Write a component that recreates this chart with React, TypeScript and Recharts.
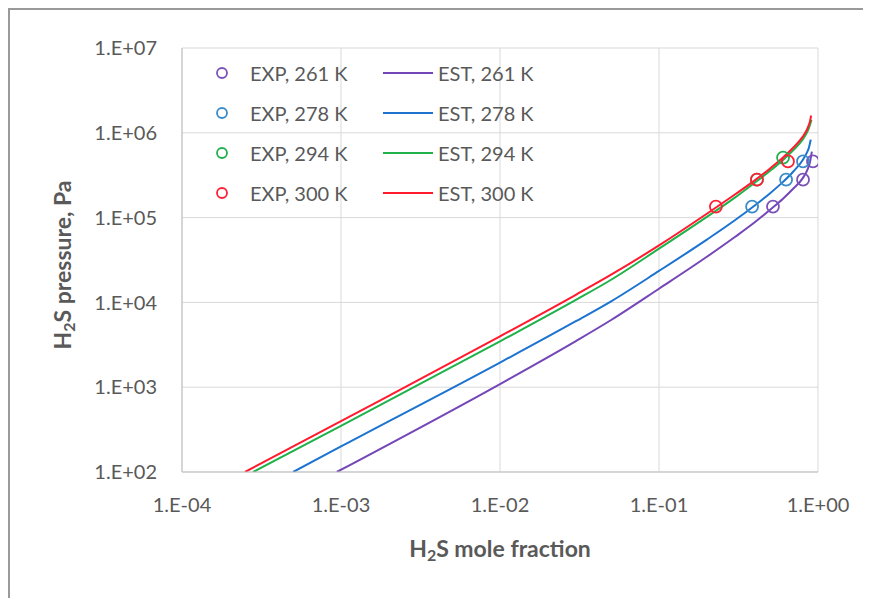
import React from "react";
import {
  ComposedChart,
  Line,
  Scatter,
  XAxis,
  YAxis,
  CartesianGrid,
  Legend,
  Label,
} from "recharts";

// axis ticks (log decades)
const X_TICKS = [1e-4, 1e-3, 1e-2, 1e-1, 1];
const X_TICK_LABELS = ["1.E-04", "1.E-03", "1.E-02", "1.E-01", "1.E+00"];
const Y_TICKS = [1e2, 1e3, 1e4, 1e5, 1e6, 1e7];
const Y_TICK_LABELS = ["1.E+02", "1.E+03", "1.E+04", "1.E+05", "1.E+06", "1.E+07"];

// experimental points
const EXP_261_X = [0.521, 0.805, 0.93];
const EXP_261_P = [1.35e5, 2.8e5, 4.6e5];
const EXP_278_X = [0.385, 0.63, 0.805];
const EXP_278_P = [1.35e5, 2.8e5, 4.6e5];
const EXP_294_X = [0.413, 0.603];
const EXP_294_P = [2.8e5, 5.1e5];
const EXP_300_X = [0.228, 0.413, 0.647];
const EXP_300_P = [1.35e5, 2.8e5, 4.6e5];

// estimated curves
const EST_261_X = [9.4e-4, 1e-2, 0.03, 0.05, 0.1, 0.2, 0.3, 0.4, 0.5, 0.6, 0.7, 0.8, 0.86, 0.89, 0.915];
const EST_261_P = [100, 1090, 3.5e3, 6.2e3, 1.45e4, 3.45e4, 5.9e4, 8.8e4, 1.24e5, 1.66e5, 2.2e5, 2.9e5, 3.7e5, 4.5e5, 6.0e5];
const EST_278_X = [5e-4, 1e-3, 1e-2, 0.03, 0.05, 0.1, 0.2, 0.3, 0.4, 0.5, 0.6, 0.7, 0.8, 0.85, 0.875, 0.9];
const EST_278_P = [100, 200, 1950, 6.0e3, 1.03e4, 2.35e4, 5.5e4, 9.3e4, 1.39e5, 1.94e5, 2.62e5, 3.5e5, 4.75e5, 5.8e5, 6.6e5, 8.3e5];
const EST_294_X = [2.8e-4, 1e-3, 1e-2, 0.03, 0.05, 0.1, 0.2, 0.3, 0.4, 0.5, 0.6, 0.7, 0.8, 0.85, 0.875, 0.91];
const EST_294_P = [100, 350, 3470, 1.07e4, 1.85e4, 4.3e4, 1.02e5, 1.72e5, 2.58e5, 3.56e5, 4.75e5, 6.25e5, 8.3e5, 1.0e6, 1.13e6, 1.42e6];
const EST_300_X = [2.49e-4, 1e-3, 1e-2, 0.03, 0.05, 0.1, 0.2, 0.3, 0.4, 0.5, 0.6, 0.7, 0.8, 0.85, 0.875, 0.89, 0.905];
const EST_300_P = [100, 398, 3980, 1.23e4, 2.12e4, 4.7e4, 1.11e5, 1.87e5, 2.75e5, 3.8e5, 5.07e5, 6.7e5, 8.95e5, 1.08e6, 1.23e6, 1.36e6, 1.6e6];

const zip = (xs: number[], ps: number[]) => xs.map((x, i) => ({ x, p: ps[i] }));

const SERIES = [
  { t: "261", exp: zip(EXP_261_X, EXP_261_P), est: zip(EST_261_X, EST_261_P), expColor: "#7a52b8", estColor: "#7446b8" },
  { t: "278", exp: zip(EXP_278_X, EXP_278_P), est: zip(EST_278_X, EST_278_P), expColor: "#3a8cc8", estColor: "#1c74d0" },
  { t: "294", exp: zip(EXP_294_X, EXP_294_P), est: zip(EST_294_X, EST_294_P), expColor: "#22b04e", estColor: "#1fb24a" },
  { t: "300", exp: zip(EXP_300_X, EXP_300_P), est: zip(EST_300_X, EST_300_P), expColor: "#ff2035", estColor: "#ff1a2e" },
];

const FONT = "Lato, 'Open Sans', sans-serif";
const TEXT = "#595959";

const hollow = (color: string) => (props: any) =>
  <circle cx={props.cx} cy={props.cy} r={6} fill="none" stroke={color} strokeWidth={1.8} />;

function LegendBox() {
  return (
    <div style={{ fontFamily: FONT, fontSize: 20, color: TEXT }}>
      {SERIES.map((s) => (
        <div key={s.t} style={{ display: "flex", alignItems: "center", height: 40 }}>
          <svg width={24} height={24}>
            <circle cx={12} cy={12} r={5} fill="none" stroke={s.expColor} strokeWidth={1.8} />
          </svg>
          <span style={{ marginLeft: 16, width: 133 }}>{`EXP, ${s.t} K`}</span>
          <svg width={50} height={24}>
            <line x1={0} y1={12} x2={50} y2={12} stroke={s.estColor} strokeWidth={2} />
          </svg>
          <span style={{ marginLeft: 5 }}>{`EST, ${s.t} K`}</span>
        </div>
      ))}
    </div>
  );
}

export default function App() {
  return (
    <div style={{ borderLeft: "2px solid #9a9a9a", borderTop: "2px solid #9a9a9a", width: 861, height: 588, background: "#fff" }}>
      <ComposedChart width={861} height={588} margin={{ top: 38, right: 53, bottom: 36, left: 42 }}>
        <CartesianGrid stroke="#d9d9d9" horizontalValues={Y_TICKS} verticalValues={X_TICKS} />
        <XAxis
          type="number"
          dataKey="x"
          scale="log"
          domain={[1e-4, 1]}
          ticks={X_TICKS}
          allowDataOverflow
          height={90}
          axisLine={{ stroke: "#bfbfbf" }}
          tickLine={false}
          tickSize={6}
          tickMargin={20}
          tick={{ fill: TEXT, fontSize: 20, fontFamily: FONT }}
          tickFormatter={(v: number) => X_TICK_LABELS[X_TICKS.indexOf(v)] ?? ""}
        >
          <Label
            content={(props: any) => {
              const vb = props.viewBox;
              return (
                <text x={vb.x + vb.width / 2} y={vb.y + 76} textAnchor="middle" dominantBaseline="central"
                  fill={TEXT} fontFamily={FONT} fontSize={23} fontWeight="bold">
                  H<tspan dy={6} fontSize={16}>2</tspan><tspan dy={-6}>S mole fraction</tspan>
                </text>
              );
            }}
          />
        </XAxis>
        <YAxis
          type="number"
          dataKey="p"
          scale="log"
          domain={[1e2, 1e7]}
          ticks={Y_TICKS}
          allowDataOverflow
          width={130}
          axisLine={{ stroke: "#bfbfbf" }}
          tickLine={false}
          tickSize={6}
          tickMargin={19}
          tick={{ fill: TEXT, fontSize: 20, fontFamily: FONT }}
          tickFormatter={(v: number) => Y_TICK_LABELS[Y_TICKS.indexOf(v)] ?? ""}
        >
          <Label
            content={(props: any) => {
              const vb = props.viewBox;
              const cx = vb.x + 10;
              const cy = vb.y + vb.height / 2 + 5;
              return (
                <text x={cx} y={cy} transform={`rotate(-90, ${cx}, ${cy})`} textAnchor="middle" dominantBaseline="central"
                  fill={TEXT} fontFamily={FONT} fontSize={23} fontWeight="bold">
                  H<tspan dy={6} fontSize={16}>2</tspan><tspan dy={-6}>S pressure, Pa</tspan>
                </text>
              );
            }}
          />
        </YAxis>
        <Legend
          layout="vertical"
          align="center"
          verticalAlign="middle"
          content={() => <LegendBox />}
          wrapperStyle={{ position: "absolute", left: 200, top: 43, width: 360 }}
        />
        {SERIES.map((s) => (
          <Line key={"est" + s.t} data={s.est} dataKey="p" type="monotone" stroke={s.estColor} strokeWidth={2}
            dot={false} activeDot={false} isAnimationActive={false} />
        ))}
        {SERIES.map((s) => (
          <Scatter key={"exp" + s.t} data={s.exp} dataKey="p" shape={hollow(s.expColor)} isAnimationActive={false} />
        ))}
      </ComposedChart>
    </div>
  );
}
